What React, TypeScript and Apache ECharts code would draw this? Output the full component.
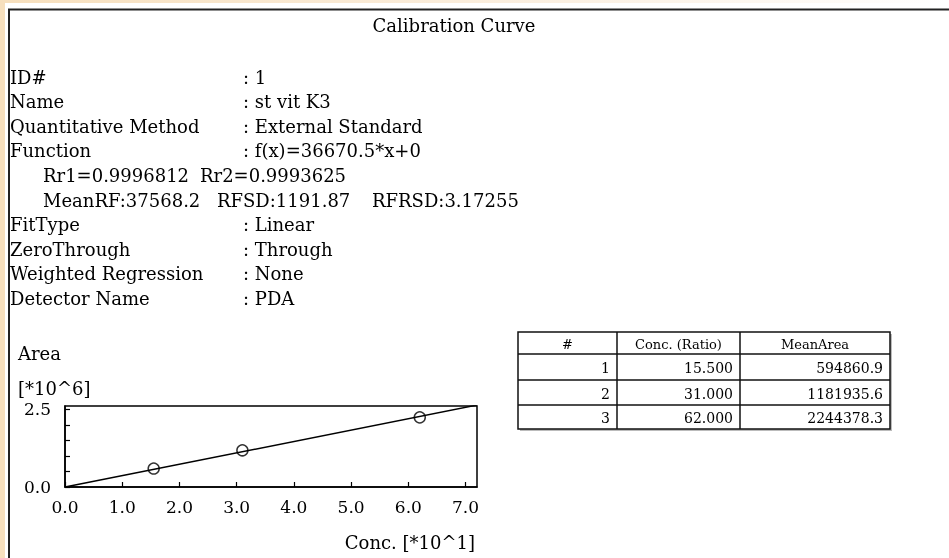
import React, { useEffect, useRef } from "react";
import * as echarts from "echarts";

const FONT = "'DejaVu Serif', 'Liberation Serif', serif";

const titleText = "Calibration Curve";
const infoLabels = ["ID#", "Name", "Quantitative Method", "Function", "", "", "FitType", "ZeroThrough", "Weighted Regression", "Detector Name"];
const infoValues = [": 1", ": st vit K3", ": External Standard", ": f(x)=36670.5*x+0", "", "", ": Linear", ": Through", ": None", ": PDA"];
const statRow1 = ["Rr1=0.9996812", "Rr2=0.9993625"];
const statRow2 = ["MeanRF:37568.2", "RFSD:1191.87", "RFRSD:3.17255"];

const tableHeaders = ["#", "Conc. (Ratio)", "MeanArea"];
const pointIds = [1, 2, 3];
const concentrations = [15.5, 31.0, 62.0];
const meanAreas = [594860.9, 1181935.6, 2244378.3];

const fitLineConc = [0, 72];
const fitLineArea = [0, 2640276];

const yLabelValues = [0, 2.5];

const xScale = 10;
const yScale = 1e6;

export default function App() {
  const ref = useRef<HTMLDivElement>(null);
  useEffect(() => {
    if (!ref.current) return;
    const chart = echarts.init(ref.current, undefined, { renderer: "svg" });

    const txt = (x: number, y: number, text: string, opts: any = {}) => ({
      type: "text",
      x,
      y,
      silent: true,
      style: {
        text,
        fill: "#000",
        font: `${opts.size || 18}px ${FONT}`,
        align: opts.align || "left",
        verticalAlign: "middle",
      },
      z: 10,
    });

    const graphics: any[] = [];
    graphics.push({ type: "rect", shape: { x: 0, y: 0, width: 949, height: 558 }, style: { fill: "#fff" }, z: 0, silent: true });
    graphics.push({ type: "rect", shape: { x: 0, y: 0, width: 5, height: 558 }, style: { fill: "#f6dfbd" }, z: 1, silent: true });
    graphics.push({
      type: "rect",
      shape: { x: 0, y: 0, width: 949, height: 3 },
      style: {
        fill: new echarts.graphic.LinearGradient(0, 0, 1, 0, [
          { offset: 0, color: "#f6dfbd" },
          { offset: 0.6, color: "#fbf0e2" },
          { offset: 1, color: "#ffffff" },
        ]),
      },
      z: 1,
      silent: true,
    });
    graphics.push({ type: "rect", shape: { x: 9, y: 9.5, width: 1000, height: 600 }, style: { fill: "none", stroke: "#222", lineWidth: 2 }, z: 2, silent: true });

    graphics.push(txt(454, 25, titleText, { align: "center" }));

    infoLabels.forEach((lab, i) => {
      const y = 77 + i * 24.6;
      if (lab) graphics.push(txt(10, y, lab));
      if (infoValues[i]) graphics.push(txt(243, y, infoValues[i]));
    });
    const s1x = [43, 200];
    statRow1.forEach((s, i) => graphics.push(txt(s1x[i], 77 + 4 * 24.6, s)));
    const s2x = [43, 217, 372];
    statRow2.forEach((s, i) => graphics.push(txt(s2x[i], 77 + 5 * 24.6, s)));

    graphics.push(txt(18, 353, "Area"));
    graphics.push(txt(18, 388, "[*10^6]"));
    graphics.push(txt(475, 542, "Conc. [*10^1]", { align: "right" }));

    // table
    const tL = 518, tR = 890, tT = 332;
    const colX = [518, 617, 740, 890];
    const rowY = [332, 354, 380, 405, 429];
    graphics.push({ type: "rect", shape: { x: tL + 2, y: tT + 2, width: tR - tL, height: rowY[4] - tT }, style: { fill: "#bbb" }, z: 3, silent: true });
    graphics.push({ type: "rect", shape: { x: tL, y: tT, width: tR - tL, height: rowY[4] - tT }, style: { fill: "#fff", stroke: "#111", lineWidth: 1.5 }, z: 4, silent: true });
    colX.slice(1, 3).forEach((cx) =>
      graphics.push({ type: "line", shape: { x1: cx, y1: tT, x2: cx, y2: rowY[4] }, style: { stroke: "#111", lineWidth: 1.5 }, z: 5, silent: true })
    );
    rowY.slice(1, 4).forEach((ry) =>
      graphics.push({ type: "line", shape: { x1: tL, y1: ry, x2: tR, y2: ry }, style: { stroke: "#111", lineWidth: 1.5 }, z: 5, silent: true })
    );
    tableHeaders.forEach((h, i) => {
      graphics.push(txt((colX[i] + colX[i + 1]) / 2, (rowY[0] + rowY[1]) / 2 + 1, h, { align: "center", size: 13 }));
    });
    pointIds.forEach((id, r) => {
      const y = (rowY[r + 1] + rowY[r + 2]) / 2 + 1;
      graphics.push(txt(colX[1] - 7, y, String(id), { align: "right", size: 14 }));
      graphics.push(txt(colX[2] - 7, y, concentrations[r].toFixed(3), { align: "right", size: 14 }));
      graphics.push(txt(colX[3] - 7, y, meanAreas[r].toFixed(1), { align: "right", size: 14 }));
    });

    const points = concentrations.map((c, i) => [c / xScale, meanAreas[i] / yScale]);
    const fitLine = fitLineConc.map((c, i) => [c / xScale, fitLineArea[i] / yScale]);

    chart.setOption({
      animation: false,
      backgroundColor: "transparent",
      graphic: { elements: graphics },
      grid: {
        left: 65,
        top: 406,
        width: 412,
        height: 81,
        show: true,
        borderColor: "#000",
        borderWidth: 1.5,
        z: 3,
      },
      xAxis: {
        type: "value",
        min: 0,
        max: 7.2,
        interval: 1,
        z: 4,
        splitLine: { show: false },
        axisLine: { lineStyle: { color: "#000", width: 1.5 } },
        axisTick: { show: true, inside: true, length: 5, lineStyle: { color: "#000", width: 1.2 } },
        axisLabel: {
          showMaxLabel: false,
          formatter: (v: number) => (Math.abs(v - Math.round(v)) < 1e-6 ? v.toFixed(1) : ""),
          color: "#000",
          fontFamily: FONT,
          fontSize: 17,
          margin: 11,
        },
      },
      yAxis: {
        type: "value",
        min: 0,
        max: 2.61,
        interval: 0.5,
        z: 4,
        splitLine: { show: false },
        axisLine: { show: true, lineStyle: { color: "#000", width: 1.5 } },
        axisTick: { show: true, inside: true, length: 5, lineStyle: { color: "#000", width: 1.2 } },
        axisLabel: {
          showMaxLabel: false,
          formatter: (v: number) => (yLabelValues.some((t) => Math.abs(t - v) < 1e-6) ? v.toFixed(1) : ""),
          color: "#000",
          fontFamily: FONT,
          fontSize: 17,
          margin: 14,
        },
      },
      series: [
        {
          type: "line",
          data: fitLine,
          symbol: "none",
          lineStyle: { color: "#000", width: 1.5 },
          clip: true,
          z: 7,
        },
        {
          type: "scatter",
          data: points,
          symbol: "circle",
          symbolSize: 11,
          itemStyle: { color: "rgba(255,255,255,0)", borderColor: "#000", borderWidth: 1.5 },
          z: 8,
        },
      ],
    });
    return () => chart.dispose();
  }, []);
  return <div ref={ref} style={{ position: "fixed", left: 0, top: 0, width: 949, height: 558 }} />;
}
